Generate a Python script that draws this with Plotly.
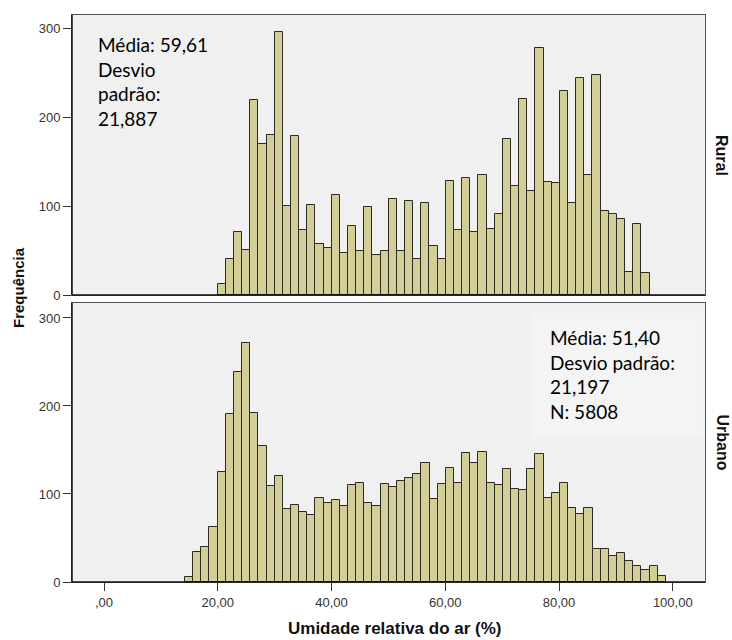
import plotly.graph_objects as go
from plotly.subplots import make_subplots

# ---- data ----
bin_width = 1.433
rural_start = 19.97
urbano_start = 14.24

rural_counts = [12, 41, 71, 51, 219, 170, 180, 296, 100, 179, 73, 101, 57, 53, 112, 47,
                78, 50, 99, 45, 50, 108, 50, 106, 41, 103, 55, 41, 128, 73, 132, 71,
                135, 74, 91, 176, 123, 221, 117, 278, 127, 126, 230, 104, 244, 135,
                248, 95, 91, 85, 26, 80, 25]

urbano_counts = [6, 34, 40, 63, 125, 191, 239, 271, 192, 154, 109, 121, 83, 88, 79, 76,
                 96, 90, 93, 86, 110, 112, 90, 86, 111, 108, 115, 118, 123, 135, 94, 111,
                 129, 112, 147, 135, 148, 112, 110, 128, 106, 105, 128, 145, 96, 101,
                 112, 84, 77, 84, 37, 38, 29, 33, 24, 18, 14, 18, 7]

x_tickvals = [0, 20, 40, 60, 80, 100]
x_ticktext = [",00", "20,00", "40,00", "60,00", "80,00", "100,00"]
y_tickvals = [0, 100, 200, 300]
y_ticktext = ["0", "100", "200", "300"]

rural_text = "Média: 59,61<br>Desvio<br>padrão:<br>21,887"
urbano_text = "Média: 51,40<br>Desvio padrão:<br>21,197<br>N: 5808"
panel_labels = ["Rural", "Urbano"]

# ---- figure ----
W, H = 732, 640
ml, mr, mt, mb = 72, 27, 15, 58
ph = H - mt - mb
pw = W - ml - mr
top_dom = [(582 - 295) / ph, 1.0]
bot_dom = [0.0, (582 - 303) / ph]

fig = make_subplots(rows=2, cols=1, shared_xaxes=True)

bar_fill = "#D3CE97"
bar_line = "#2b2b22"

def centers(start, n):
    return [start + (i + 0.5) * bin_width for i in range(n)]

fig.add_trace(go.Bar(x=centers(rural_start, len(rural_counts)), y=rural_counts,
                     width=bin_width, marker=dict(color=bar_fill, line=dict(color=bar_line, width=1)),
                     showlegend=False), row=1, col=1)
fig.add_trace(go.Bar(x=centers(urbano_start, len(urbano_counts)), y=urbano_counts,
                     width=bin_width, marker=dict(color=bar_fill, line=dict(color=bar_line, width=1)),
                     showlegend=False), row=2, col=1)

xr = [-5.63, 105.67]
tickfont = dict(family="Liberation Sans, Arial, sans-serif", size=13, color="#333333")

fig.update_layout(
    width=W, height=H,
    margin=dict(l=ml, r=mr, t=mt, b=mb),
    paper_bgcolor="white",
    plot_bgcolor="#F0F0F0",
    bargap=0,
    xaxis=dict(domain=[0, 1], range=xr, showgrid=False, zeroline=False,
               showline=True, linecolor="#555555", mirror=True, linewidth=1,
               showticklabels=False, ticks=""),
    xaxis2=dict(domain=[0, 1], range=xr, showgrid=False, zeroline=False,
                showline=True, linecolor="#555555", mirror=True, linewidth=1,
                tickvals=x_tickvals, ticktext=x_ticktext, ticks="outside", ticklen=8,
                tickcolor="#333333", tickfont=tickfont),
    yaxis=dict(domain=top_dom, range=[0, 315], showgrid=False, zeroline=False,
               showline=True, linecolor="#555555", mirror=True, linewidth=1,
               tickvals=y_tickvals, ticktext=y_ticktext, ticks="outside", ticklen=8,
               tickcolor="#333333", tickfont=tickfont),
    yaxis2=dict(domain=bot_dom, range=[0, 317], showgrid=False, zeroline=False,
                showline=True, linecolor="#555555", mirror=True, linewidth=1,
                tickvals=y_tickvals, ticktext=y_ticktext, ticks="outside", ticklen=8,
                tickcolor="#333333", tickfont=tickfont),
)

# dark axis lines (left and bottom)
for yref in ["y domain", "y2 domain"]:
    xr_ref = "x domain" if yref == "y domain" else "x2 domain"
    fig.add_shape(type="line", xref=xr_ref, yref=yref, x0=0, x1=1, y0=0, y1=0,
                  line=dict(color="#111111", width=1.5))
    fig.add_shape(type="line", xref=xr_ref, yref=yref, x0=0, x1=0, y0=0, y1=1,
                  line=dict(color="#111111", width=1.5))

# light box behind urbano stats
fig.add_shape(type="rect", xref="x2 domain", yref="y2 domain",
              x0=(532 - ml) / pw, x1=(703 - ml) / pw,
              y0=(582 - 438) / (582 - 303), y1=(582 - 313) / (582 - 303),
              fillcolor="#F4F4F4", line=dict(width=0), layer="below")

annfont = dict(family="Lato, Open Sans, sans-serif", size=19, color="#000000")
fig.add_annotation(xref="x domain", yref="y domain", x=(96 - ml) / pw, y=(295 - 31) / (295 - 15),
                   text=rural_text, showarrow=False, xanchor="left", yanchor="top",
                   align="left", font=annfont)
fig.add_annotation(xref="x2 domain", yref="y2 domain", x=(548 - ml) / pw, y=(582 - 324) / (582 - 303),
                   text=urbano_text, showarrow=False, xanchor="left", yanchor="top",
                   align="left", font=annfont)

labfont = dict(family="Liberation Sans, Arial, sans-serif", size=16, color="#111111")
fig.add_annotation(xref="paper", yref="y domain", x=(722 - ml) / pw, y=0.5,
                   text="<b>Rural</b>", textangle=90, showarrow=False, font=labfont,
                   xanchor="center", yanchor="middle")
fig.add_annotation(xref="paper", yref="y2 domain", x=(722 - ml) / pw, y=0.5,
                   text="<b>Urbano</b>", textangle=90, showarrow=False, font=labfont,
                   xanchor="center", yanchor="middle")

titlefont = dict(family="Liberation Sans, Arial, sans-serif", size=15, color="#111111")
fig.add_annotation(xref="paper", yref="paper", x=(18 - ml) / pw, y=(582 - 287) / ph,
                   text="<b>Frequência</b>", textangle=-90, showarrow=False, font=titlefont,
                   xanchor="center", yanchor="middle")
fig.add_annotation(xref="paper", yref="paper", x=(395 - ml) / pw, y=(582 - 628) / ph,
                   text="<b>Umidade relativa do ar (%)</b>", showarrow=False,
                   font=dict(family="Liberation Sans, Arial, sans-serif", size=17, color="#111111"),
                   xanchor="center", yanchor="middle")

fig.write_html("out.html")
